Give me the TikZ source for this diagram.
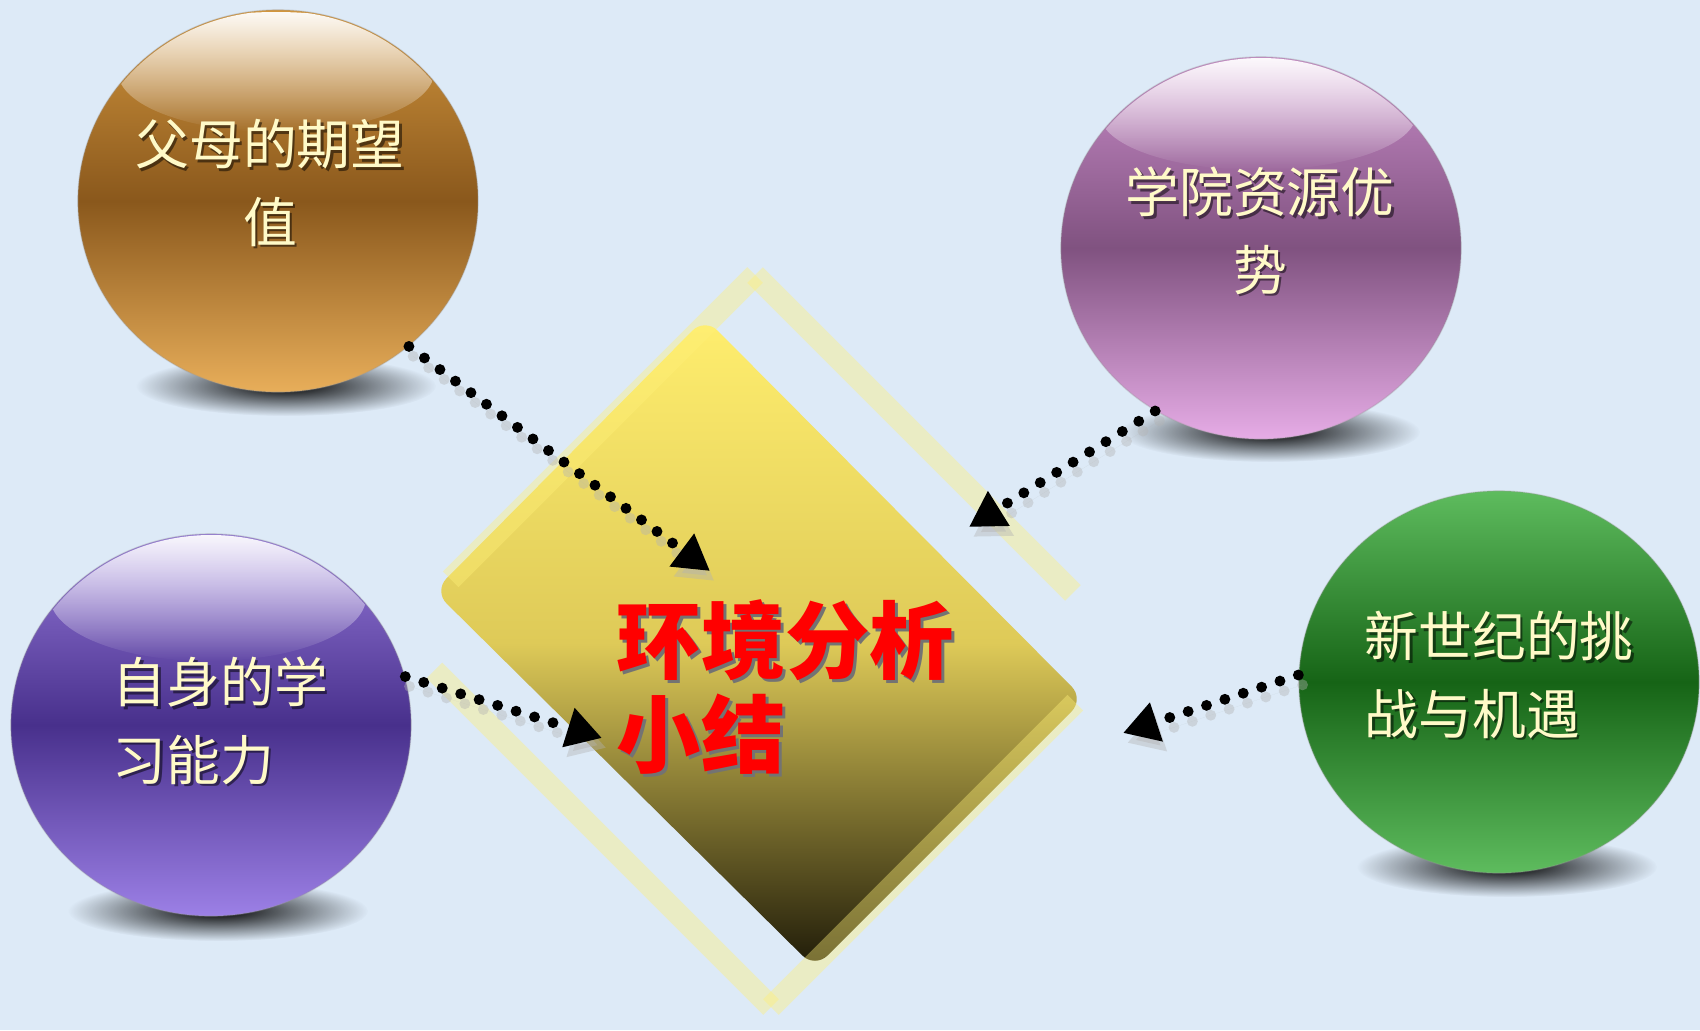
\documentclass[tikz,border=0pt]{standalone}
\usepackage{fontspec}
\setmainfont{Noto Sans CJK SC}
\usetikzlibrary{shapes.geometric, arrows.meta, positioning, calc, fadings}
\definecolor{bgblue}{RGB}{221,234,247}
\definecolor{goldtop}{RGB}{210,150,62}
\definecolor{goldmid}{RGB}{138,88,28}
\definecolor{goldbot}{RGB}{232,174,90}
\definecolor{plumtop}{RGB}{200,140,200}
\definecolor{plummid}{RGB}{128,82,128}
\definecolor{plumbot}{RGB}{230,172,230}
\definecolor{viotop}{RGB}{150,122,218}
\definecolor{viomid}{RGB}{72,48,140}
\definecolor{viobot}{RGB}{156,128,230}
\definecolor{grntop}{RGB}{94,188,94}
\definecolor{grnmid}{RGB}{22,100,22}
\definecolor{grnbot}{RGB}{94,188,94}
\definecolor{dmtop}{RGB}{255,238,110}
\definecolor{dmmid}{RGB}{222,202,88}
\definecolor{dmbot}{RGB}{30,26,8}
\definecolor{glowyel}{RGB}{255,240,120}
\definecolor{cream}{RGB}{255,250,200}
\definecolor{titlered}{RGB}{255,0,0}
\tikzfading[name=glossfade, top color=transparent!5, bottom color=transparent!100]
\tikzfading[name=blurfade, inner color=transparent!0, outer color=transparent!100]
\tikzset{
  bubble/.style={ellipse, minimum width=4cm, minimum height=3.82cm,
    inner sep=0pt, draw=black!40, draw opacity=0.3, line width=0.4pt},
  gloss/.style={fill=white, path fading=glossfade},
  bubbleshadow/.style={fill=black, path fading=blurfade},
  bubbletext/.style={text=cream, inner sep=0pt,
    font=\fontsize{15.3pt}{22pt}\selectfont},
  bubbletextshadow/.style={bubbletext, text=black, opacity=0.5},
  titletext/.style={text=titlered, inner sep=0pt, align=left,
    font=\fontsize{24pt}{27pt}\selectfont\bfseries},
  titleshadow/.style={titletext, text=black!55},
  glowstrip/.style={draw=glowyel, line width=6.3pt, opacity=0.4},
  dotarrow/.style={line width=3.1pt, line cap=round,
    dash pattern=on 0pt off 5.5pt, -{Triangle[length=10pt,width=11pt]}},
  dotshadow/.style={dotarrow, draw=gray!60, fill=gray!60, opacity=0.4,
    transform canvas={xshift=1.2pt, yshift=-2.8pt}}
}

\begin{document}
\begin{tikzpicture}[x=0.01cm, y=-0.01cm]
  % Page
  \useasboundingbox (0,0) rectangle (1700,1030);
  \fill[bgblue] (0,0) rectangle (1700,1030);
  % Shadows under the bubbles
  \fill[bubbleshadow] (286,386) ellipse [x radius=150, y radius=30];
  \fill[bubbleshadow] (1270,432) ellipse [x radius=150, y radius=30];
  \fill[bubbleshadow] (218,911) ellipse [x radius=150, y radius=30];
  \fill[bubbleshadow] (1507,867) ellipse [x radius=150, y radius=30];
  % Bubbles
  \node[bubble, top color=goldtop, bottom color=goldbot, middle color=goldmid] (gold) at (278,201) {};
  \node[bubble, top color=plumtop, bottom color=plumbot, middle color=plummid] (plum) at (1261,248) {};
  \node[bubble, top color=viotop, bottom color=viobot, middle color=viomid] (violet) at (211,725) {};
  \node[bubble, top color=grntop, bottom color=grnbot, middle color=grnmid] (green) at (1499,682) {};
  % Gloss
  \begin{scope}
    \clip (278,201) ellipse [x radius=199, y radius=190];
    \fill[gloss] (276,72) ellipse [x radius=158, y radius=60];
  \end{scope}
  \begin{scope}
    \clip (1261,248) ellipse [x radius=199, y radius=190];
    \fill[gloss] (1258,114) ellipse [x radius=158, y radius=56];
  \end{scope}
  \begin{scope}
    \clip (211,725) ellipse [x radius=199, y radius=190];
    \fill[gloss] (208,597) ellipse [x radius=158, y radius=64];
  \end{scope}
  % Diamond
  \coordinate (dT) at (705,318);
  \coordinate (dR) at (1084,699);
  \coordinate (dB) at (815,968);
  \coordinate (dL) at (434,591);
  \shade[top color=dmtop, bottom color=dmbot, middle color=dmmid, rounded corners=5pt]
    (dT) -- (dR) -- (dB) -- (dL) -- cycle;
  % Glow frame
  \coordinate (fTL) at (755,275);
  \coordinate (fTR) at (1129,649);
  \coordinate (fBR) at (771,1007);
  \coordinate (fBL) at (397,633);
  \draw[glowstrip] (fTL) -- ($(fTL)!0.85!(fTR)$);
  \draw[glowstrip] ($(fBL)!0.1!(fBR)$) -- (fBR);
  \draw[glowstrip] (fTL) -- ($(fTL)!0.85!(fBL)$);
  \draw[glowstrip] (fBR) -- ($(fBR)!0.85!(fTR)$);
  % Arrow tips
  \coordinate (tipgold) at (710,571);
  \coordinate (tipplum) at (969,527);
  \coordinate (tipviolet) at (602,738);
  \coordinate (tipgreen) at (1123,733);
  % Arrows
  \draw[dotshadow] (gold.-48) -- (tipgold);
  \draw[dotarrow] (gold.-48) -- (tipgold);
  \draw[dotshadow] (plum.-123) -- (tipplum);
  \draw[dotarrow] (plum.-123) -- (tipplum);
  \draw[dotshadow] (violet.14) -- (tipviolet);
  \draw[dotarrow] (violet.14) -- (tipviolet);
  \draw[dotshadow] (green.178) -- (tipgreen);
  \draw[dotarrow] (green.178) -- (tipgreen);
  % Labels
  \node[bubbletextshadow, align=center] (goldlbls) at (272.5,185.5) {父母的期望\\值};
  \node[bubbletext, align=center] (goldlbl) at (270,183) {父母的期望\\值};
  \node[bubbletextshadow, align=center] (plumlbls) at (1262.5,233.5) {学院资源优\\势};
  \node[bubbletext, align=center] (plumlbl) at (1260,231) {学院资源优\\势};
  \node[bubbletextshadow, align=left, anchor=west] (violetlbls) at (114.5,723.5) {自身的学\\习能力};
  \node[bubbletext, align=left, anchor=west] (violetlbl) at (112,721) {自身的学\\习能力};
  \node[bubbletextshadow, align=left, anchor=west] (greenlbls) at (1366.5,677.5) {新世纪的挑\\战与机遇};
  \node[bubbletext, align=left, anchor=west] (greenlbl) at (1364,675) {新世纪的挑\\战与机遇};
  \node[titleshadow, anchor=west] (titles) at (619,690) {环境分析\\小结};
  \node[titletext, anchor=west] (title) at (616,687) {环境分析\\小结};
\end{tikzpicture}
\end{document}
